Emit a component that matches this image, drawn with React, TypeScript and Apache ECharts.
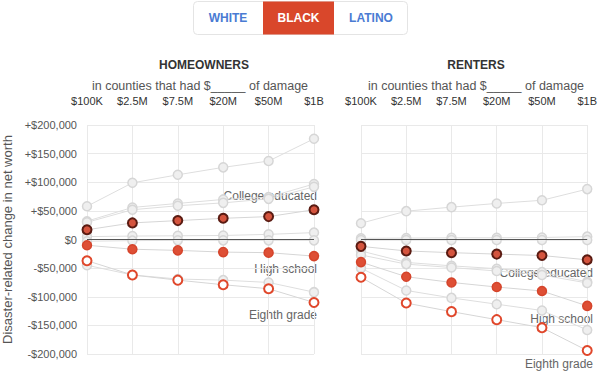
import React, { useEffect, useRef } from "react";
import * as echarts from "echarts";

const damageTicks = ["$100K", "$2.5M", "$7.5M", "$20M", "$50M", "$1B"];

// Homeowners
const ownersBlackCollege = [17000, 29000, 33000, 37000, 40000, 52000];
const ownersBlackHighSchool = [-10000, -17000, -19000, -22000, -23000, -29000];
const ownersBlackEighth = [-37000, -62000, -71000, -79000, -86000, -110000];
const ownersWhiteCollege = [58000, 99000, 113000, 126000, 137000, 176000];
const ownersWhiteHighSchool = [32000, 56000, 63000, 70000, 74000, 97000];
const ownersLatinoCollege = [30000, 52000, 59000, 64000, 71000, 92000];
const ownersWhiteEighth = [5000, 6000, 6500, 7000, 9000, 12000];
const ownersLatinoHighSchool = [-3000, -2000, -1500, -1500, -1500, -1500];
const ownersLatinoEighth = [-45000, -62000, -69000, -71000, -75000, -92000];

// Renters
const rentersBlackCollege = [-12000, -20000, -23000, -25500, -28000, -35500];
const rentersBlackHighSchool = [-39500, -65000, -75000, -83000, -90000, -116000];
const rentersBlackEighth = [-66000, -111000, -126000, -140000, -154000, -194000];
const rentersWhiteCollege = [28500, 49500, 56500, 63000, 68500, 88000];
const rentersWhiteHighSchool = [2000, 2500, 3000, 3000, 3500, 5000];
const rentersWhiteEighth = [-1000, -1000, -1000, -1000, -1000, -1000];
const rentersLatinoCollege = [-20000, -40000, -46000, -51000, -57000, -74000];
const rentersLatinoHighSchool = [-27000, -43000, -49000, -55000, -62000, -76000];
const rentersLatinoEighth = [-50000, -89000, -102000, -113000, -124000, -158000];

const yTicks = { min: -200000, max: 200000, interval: 50000 };

const FONT = "Liberation Sans, Arial, sans-serif";

function fmt(v: number) {
  if (v === 0) return "$0";
  const s = "$" + Math.abs(v).toLocaleString("en-US");
  return v > 0 ? "+" + s : "-" + s;
}

function greySeries(data: number[], idx: number) {
  return {
    type: "line",
    xAxisIndex: idx,
    yAxisIndex: idx,
    data,
    symbol: "circle",
    symbolSize: 9,
    z: 2,
    lineStyle: { color: "#dedede", width: 1 },
    itemStyle: { color: "#efefef", borderColor: "#d6d6d6", borderWidth: 1.5 },
    emphasis: { disabled: true },
    silent: true,
  };
}

function hiSeries(data: number[], idx: number, kind: string) {
  const styles: Record<string, any> = {
    college: { color: "#d4543e", borderColor: "#5a1b12", borderWidth: 2 },
    high: { color: "#de4f35", borderColor: "#d5442b", borderWidth: 1.5 },
    eighth: { color: "#ffffff", borderColor: "#e0472b", borderWidth: 2 },
  };
  return {
    type: "line",
    xAxisIndex: idx,
    yAxisIndex: idx,
    data,
    symbol: "circle",
    symbolSize: 9,
    z: 5,
    lineStyle: { color: "#d6d6d6", width: 1 },
    itemStyle: styles[kind],
    emphasis: { disabled: true },
    silent: true,
  };
}

function zeroLine(idx: number) {
  return {
    type: "line",
    xAxisIndex: idx,
    yAxisIndex: idx,
    data: [],
    z: 3,
    silent: true,
    markLine: {
      silent: true,
      symbol: "none",
      label: { show: false },
      lineStyle: { color: "#555", type: "solid", width: 1 },
      data: [{ yAxis: 0 }],
    },
  };
}

export default function App() {
  const ref = useRef<HTMLDivElement>(null);
  useEffect(() => {
    if (!ref.current) return;
    const chart = echarts.init(ref.current, null, { renderer: "svg" });
    const xAxisCommon = {
      type: "category",
      position: "top",
      boundaryGap: false,
      data: damageTicks,
      axisLine: { show: false },
      axisTick: { show: true, length: 12, lineStyle: { color: "#e6e6e6" } },
      splitLine: { show: true, lineStyle: { color: "#e9e9e9" } },
      axisLabel: { color: "#333", fontSize: 11, fontFamily: FONT, margin: 19, interval: 0 },
    };
    const yAxisCommon = {
      type: "value",
      min: yTicks.min,
      max: yTicks.max,
      interval: yTicks.interval,
      axisLine: { show: false },
      axisTick: { show: false },
      splitLine: { show: true, lineStyle: { color: "#e9e9e9" } },
    };
    const text = (x: number, y: number, t: string, style: any) => ({
      type: "text",
      x,
      y,
      silent: true,
      style: { text: t, fontFamily: FONT, ...style },
    });
    chart.setOption({
      animation: false,
      grid: [
        { left: 86, right: 286, top: 125, height: 229 },
        { left: 361, right: 10, top: 125, height: 229 },
      ],
      xAxis: [
        { ...xAxisCommon, gridIndex: 0 },
        { ...xAxisCommon, gridIndex: 1 },
      ],
      yAxis: [
        {
          ...yAxisCommon,
          gridIndex: 0,
          name: "Disaster-related change in net worth",
          nameLocation: "middle",
          nameGap: 73,
          nameTextStyle: { color: "#555", fontSize: 13, fontFamily: FONT },
          axisLabel: { color: "#555", fontSize: 11, fontFamily: FONT, margin: 10, formatter: fmt },
        },
        { ...yAxisCommon, gridIndex: 1, axisLabel: { show: false } },
      ],
      series: [
        greySeries(ownersWhiteCollege, 0),
        greySeries(ownersWhiteHighSchool, 0),
        greySeries(ownersLatinoCollege, 0),
        greySeries(ownersWhiteEighth, 0),
        greySeries(ownersLatinoHighSchool, 0),
        greySeries(ownersLatinoEighth, 0),
        zeroLine(0),
        hiSeries(ownersBlackCollege, 0, "college"),
        hiSeries(ownersBlackHighSchool, 0, "high"),
        hiSeries(ownersBlackEighth, 0, "eighth"),
        greySeries(rentersWhiteCollege, 1),
        greySeries(rentersWhiteHighSchool, 1),
        greySeries(rentersWhiteEighth, 1),
        greySeries(rentersLatinoCollege, 1),
        greySeries(rentersLatinoHighSchool, 1),
        greySeries(rentersLatinoEighth, 1),
        zeroLine(1),
        hiSeries(rentersBlackCollege, 1, "college"),
        hiSeries(rentersBlackHighSchool, 1, "high"),
        hiSeries(rentersBlackEighth, 1, "eighth"),
      ],
      graphic: [
        {
          type: "rect",
          shape: { x: 193.5, y: 1.5, width: 214, height: 33, r: 4 },
          style: { fill: "#fff", stroke: "#e4e4e4", lineWidth: 1 },
          silent: true,
        },
        {
          type: "rect",
          shape: { x: 263, y: 1.5, width: 71, height: 33 },
          style: { fill: "#d9472b" },
          silent: true,
        },
        text(228, 18, "WHITE", { fill: "#4a7bd3", fontSize: 12, fontWeight: "bold", align: "center", verticalAlign: "middle" }),
        text(298.5, 18, "BLACK", { fill: "#ffffff", fontSize: 12, fontWeight: "bold", align: "center", verticalAlign: "middle" }),
        text(371, 18, "LATINO", { fill: "#4a7bd3", fontSize: 12, fontWeight: "bold", align: "center", verticalAlign: "middle" }),
        text(204, 65, "HOMEOWNERS", { fill: "#333", fontSize: 12, fontWeight: "bold", align: "center", verticalAlign: "middle" }),
        text(476, 65, "RENTERS", { fill: "#333", fontSize: 12, fontWeight: "bold", align: "center", verticalAlign: "middle" }),
        text(200, 86, "in counties that had $_____ of damage", { fill: "#555", fontSize: 12.5, align: "center", verticalAlign: "middle" }),
        text(476, 86, "in counties that had $_____ of damage", { fill: "#555", fontSize: 12.5, align: "center", verticalAlign: "middle" }),
        text(317, 196, "College educated", { fill: "#666", fontSize: 12, align: "right", verticalAlign: "middle" }),
        text(317, 269, "High school", { fill: "#666", fontSize: 12, align: "right", verticalAlign: "middle" }),
        text(317, 315, "Eighth grade", { fill: "#666", fontSize: 12, align: "right", verticalAlign: "middle" }),
        text(593, 273, "College educated", { fill: "#666", fontSize: 12, align: "right", verticalAlign: "middle" }),
        text(593, 319, "High school", { fill: "#666", fontSize: 12, align: "right", verticalAlign: "middle" }),
        text(593, 364, "Eighth grade", { fill: "#666", fontSize: 12, align: "right", verticalAlign: "middle" }),
      ],
    });
    return () => chart.dispose();
  }, []);
  return (
    <div
      ref={ref}
      style={{ position: "fixed", left: 0, top: 0, width: 600, height: 376, background: "#fff" }}
    />
  );
}
